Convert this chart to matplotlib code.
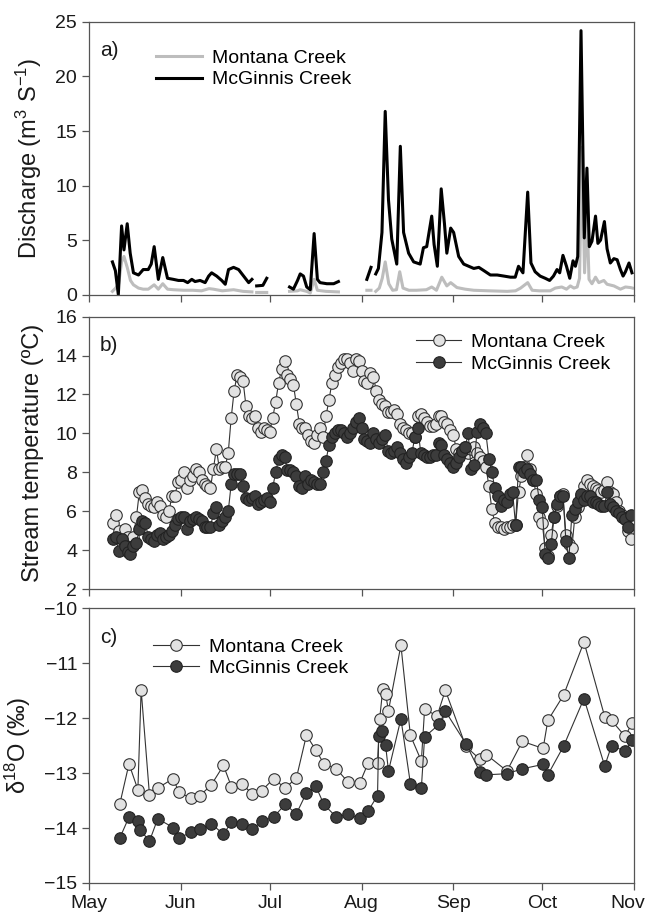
import numpy as np
import matplotlib
matplotlib.use("Agg")
import matplotlib.pyplot as plt
import matplotlib.dates as mdates
import matplotlib.transforms as mtransforms

plt.rcParams["font.family"] = ["Liberation Sans", "DejaVu Sans"]
plt.rcParams["mathtext.fontset"] = "custom"
plt.rcParams["mathtext.rm"] = "Liberation Sans"
plt.rcParams["mathtext.it"] = "Liberation Sans:italic"

# day offsets are counted from 1 May; None marks a gap in the record
START = np.datetime64("2010-05-01")
END = np.datetime64("2010-11-01")

# a) discharge, McGinnis Creek
mcg_q_days = [7.9, 8.9, 9.9, 11.0, 11.8, 12.9, 13.9, 15.0, 16.7, 18.3, 20.0, 21.0, 22.0,
              23.4, 24.9, 26.5, 28.5, 30.2, 31.9, 33.3, 34.7, 35.8, 37.5, 39.2, 40.4,
              41.4, 43.1, 44.8, 46.0, 47.1, 48.8, 50.5, 52.2, 53.9, 55.0, None,
              56.6, 58.7, 60.0, None,
              67.7, 69.0, 70.4, 71.3, 72.4, 73.5, 74.7, 76.0, 77.1, 78.0, 80.3, 82.6, 84.2, None,
              93.8, 95.2, None,
              96.8, 97.7, 98.9, 100.0, 101.1, 102.2, 103.9, 105.1, 106.2, 107.9, 109.6,
              111.8, 112.9, 114.0, 115.7, 116.5, 117.6, 118.9, 120.0, 120.8, 122.1, 123.1,
              124.8, 126.5, 128.2, 129.9, 131.6, 133.3, 135.5, 137.8, 140.1, 142.3, 143.9,
              145.0, 146.5, 148.1, 149.2, 150.6, 152.3, 154.0, 155.5, 156.8, 158.0, 158.9,
              160.0, 161.2, 162.3, 163.4, 164.2, 165.0, 166.1, 167.2, 168.1, 168.9, 169.8,
              171.0, 171.8, 172.7, 174.0, 174.9, 176.0, 177.2, 178.3, 179.4, 180.3, 181.1,
              182.3, 183.3]
mcg_q = [3.0, 2.2, 0.0, 6.3, 4.1, 6.5, 3.8, 2.0, 1.8, 2.3, 2.3, 2.8, 4.4,
         1.4, 3.4, 1.5, 1.4, 1.3, 1.3, 1.1, 1.4, 1.2, 1.3, 1.1, 1.7,
         2.0, 1.7, 1.3, 0.95, 2.3, 2.5, 2.3, 1.7, 1.1, 1.4, None,
         0.8, 0.85, 1.5, None,
         0.7, 0.5, 1.3, 1.9, 1.7, 0.7, 0.45, 5.6, 1.4, 1.1, 1.0, 1.0, 1.2, None,
         1.4, 2.5, None,
         1.9, 2.4, 5.7, 16.8, 8.7, 5.1, 2.8, 13.6, 5.7, 3.8, 3.0,
         2.8, 4.3, 4.4, 7.2, 4.6, 2.6, 9.7, 6.5, 3.8, 6.1, 5.7,
         3.5, 2.8, 2.6, 2.4, 2.5, 2.2, 1.8, 1.8, 1.7, 1.6, 1.6,
         2.6, 2.0, 9.4, 2.9, 2.1, 1.7, 1.5, 1.3, 1.7, 2.3, 2.0,
         3.6, 2.6, 1.5, 3.1, 2.6, 3.5, 24.2, 5.2, 11.6, 4.4, 4.9,
         7.2, 4.7, 5.0, 6.7, 4.2, 2.9, 3.3, 3.2, 2.3, 1.7, 2.1,
         2.9, 2.0]

# a) discharge, Montana Creek
mon_q_days = [7.9, 9.0, 10.0, 11.0, 11.8, 12.9, 14.0, 15.0, 16.7, 18.3, 20.0, 22.0, 23.4,
              24.9, 26.5, 28.5, 32.0, 35.0, 38.0, 40.5, 42.0, 45.0, 48.8, 52.0, 55.0, None,
              56.6, 60.0, None,
              67.7, 70.4, 71.3, 73.5, 74.7, 76.0, 77.1, 80.0, 84.2, None,
              93.8, 95.2, None,
              96.8, 98.0, 99.0, 100.0, 101.2, 102.5, 103.8, 104.9, 106.0, 108.0, 110.5,
              113.9, 115.7, 117.3, 119.1, 120.8, 122.1, 124.2, 127.0, 129.9, 135.0, 141.2,
              144.0, 145.7, 148.1, 149.6, 152.0, 155.7, 157.4, 159.6, 161.2, 162.5, 163.7,
              164.8, 165.6, 166.4, 167.3, 168.1, 168.8, 169.8, 171.0, 172.1, 173.8, 174.9,
              177.2, 179.4, 181.1, 182.8, 183.5]
mon_q = [0.3, 0.6, 1.0, 3.0, 3.5, 2.5, 1.3, 0.9, 0.6, 0.5, 0.5, 0.9, 0.5,
         1.0, 0.5, 0.45, 0.4, 0.4, 0.35, 0.55, 0.5, 0.35, 0.45, 0.3, 0.25, None,
         0.2, 0.2, None,
         0.3, 0.35, 0.45, 0.3, 0.15, 1.4, 0.4, 0.3, 0.25, None,
         0.4, 0.4, None,
         0.3, 0.6, 1.5, 3.0, 1.0, 0.4, 0.45, 2.1, 0.6, 0.4, 0.4,
         0.45, 0.7, 0.4, 1.6, 0.8, 1.1, 0.65, 0.5, 0.4, 0.35, 0.3,
         0.35, 0.6, 1.1, 0.4, 0.35, 0.35, 0.6, 0.7, 0.5, 0.8, 0.6,
         0.7, 1.5, 13.5, 2.0, 7.5, 1.4, 1.0, 1.6, 1.1, 1.3, 0.95,
         0.8, 0.5, 0.7, 0.65, 0.6]

# b) daily stream temperature, both records start 9 May (offset 8)
temp_first_day = 8
mon_temp = [5.4, 5.8, 5.0, 4.6, 5.1, 4.7, 4.5, 4.7, 5.7, 7.0, 7.1, 6.7, 6.4, 6.3, 6.2, 6.5,
            6.3, 5.8, 5.7, 6.0, 6.8, 6.8, 7.5, 7.6, 8.0, 7.2, 7.6, 7.8, 8.2, 8.0, 7.6, 7.4,
            7.3, 7.2, 8.2, 9.2, 8.2, 8.3, 8.3, 9.0, 10.8, 12.2, 13.0, 12.9, 12.7, 11.4, 10.9,
            10.8, 10.9, 10.3, 10.1, 10.3, 10.2, 10.1, 10.8, 11.6, 12.6, 13.3, 13.7, 13.0,
            12.8, 12.5, 11.5, 10.5, 10.3, 10.3, 9.9, 9.6, 9.5, 9.9, 10.3, 9.8, 10.9, 11.7,
            12.6, 13.0, 13.4, 13.6, 13.8, 13.8, 13.6, 13.2, 13.8, 13.7, 13.2, 12.7, 12.6,
            13.1, 12.9, 12.2, 11.7, 11.5, 11.4, 11.1, 11.1, 11.2, 11.0, 10.5, 10.3, 10.2,
            10.0, 10.0, 9.8, 10.9, 11.0, 10.8, 10.6, 10.4, 10.4, 10.5, 10.9, 10.9, 10.6,
            10.5, 10.2, 9.9, 9.2, 9.0, 9.1, 9.3, 9.0, 9.2, 9.3, 9.0, 8.8, 8.6, 8.3, 7.3,
            6.1, 5.4, 5.2, 5.2, 5.1, 5.2, 5.2, 5.3, 5.3, 7.0, 7.8, 8.3, 8.9, 8.2, 7.6, 6.9,
            5.7, 5.4, 4.1, 3.7, 4.8, 5.7, 6.3, 6.8, 6.9, 4.8, 4.3, 4.1, 5.7, 6.2, 6.8, 7.3,
            7.6, 7.4, 7.3, 7.2, 7.1, 7.0, 7.1, 7.5, 7.0, 6.9, 6.5, 6.0, 5.8, 5.6, 5.0, 4.6]
mcg_temp = [4.6, 4.7, 3.95, 4.6, 4.2, 3.9, 3.8, 4.2, 4.4, 5.1, 5.5, 5.4, 4.7, 4.6, 4.5,
            4.8, 4.9, 4.6, 4.7, 4.8, 5.0, 5.3, 5.6, 5.7, 5.7, 5.1, 5.5, 5.6, 5.7, 5.6, 5.5,
            5.2, 5.2, 5.2, 5.9, 6.2, 5.3, 5.5, 5.7, 6.0, 7.4, 7.9, 7.9, 7.9, 7.3, 6.7, 6.6,
            6.7, 6.8, 6.4, 6.5, 6.6, 6.7, 6.5, 7.2, 8.0, 8.7, 8.9, 8.8, 8.1, 8.1, 8.0, 7.8,
            7.3, 7.2, 7.8, 7.4, 7.6, 7.5, 7.4, 7.4, 8.0, 8.6, 9.4, 9.8, 10.0, 10.2, 10.2,
            10.0, 9.8, 10.0, 10.3, 10.6, 10.8, 10.3, 9.7, 9.6, 9.5, 10.0, 9.7, 9.5, 9.7,
            9.9, 9.1, 9.0, 9.1, 9.3, 9.0, 8.7, 8.5, 8.8, 9.0, 9.8, 10.3, 9.0, 8.9, 8.8, 8.8,
            8.9, 8.9, 9.5, 9.4, 8.9, 8.7, 8.5, 8.3, 8.5, 8.8, 9.1, 9.3, 10.0, 8.2, 8.4,
            10.1, 10.5, 10.3, 10.0, 8.7, 8.0, 7.2, 6.8, 6.3, 6.6, 6.5, 6.9, 7.0, 5.3, 8.3,
            8.3, 8.0, 8.2, 7.9, 7.6, 7.6, 6.6, 6.2, 3.8, 3.6, 4.3, 5.7, 6.4, 6.8, 6.8, 4.5,
            3.6, 5.8, 6.1, 6.5, 6.9, 6.6, 6.8, 6.8, 6.5, 6.5, 6.4, 6.3, 6.3, 7.0, 6.4, 6.2,
            6.0, 5.9, 5.7, 5.6, 5.2, 5.8]

# c) d18O samples
mon_iso_days = [10.4, 13.5, 16.5, 17.6, 20.4, 23.2, 28.4, 30.4, 34.3, 37.4, 41.2, 45.4, 48.1,
                51.6, 55.1, 58.3, 62.3, 66.2, 70.0, 73.4, 76.6, 79.3, 83.5, 87.4, 91.4, 94.2,
                97.4, 98.1, 99.2, 100.1, 101.1, 105.3, 108.5, 112.2, 113.3, 117.5, 120.3,
                127.2, 132.0, 134.1, 141.1, 146.3, 153.3, 154.9, 160.2, 167.1, 174.1, 176.4,
                181.0, 183.4]
mon_iso = [-13.56, -12.83, -13.30, -11.48, -13.39, -13.27, -13.10, -13.35, -13.45, -13.41,
           -13.22, -12.86, -13.25, -13.19, -13.38, -13.32, -13.10, -13.27, -13.09, -12.31,
           -12.58, -12.83, -12.92, -13.16, -13.18, -12.82, -12.81, -12.02, -11.46, -11.55,
           -11.86, -10.67, -12.31, -12.78, -11.83, -11.96, -11.49, -12.51, -12.75, -12.66,
           -12.96, -12.42, -12.55, -12.04, -11.58, -10.61, -11.97, -12.04, -12.33, -12.08]
mcg_iso_days = [10.4, 13.5, 16.5, 17.3, 20.4, 23.2, 28.4, 30.4, 34.3, 37.4, 41.2, 45.4, 48.1,
                51.6, 55.1, 58.3, 62.3, 66.2, 70.0, 73.4, 76.6, 79.3, 83.5, 87.4, 91.4, 94.2,
                97.4, 97.8, 98.9, 100.1, 101.1, 105.3, 108.5, 112.2, 113.3, 118.2, 120.3,
                127.2, 132.0, 134.1, 141.1, 146.3, 153.3, 154.9, 160.2, 167.1, 174.1, 176.4,
                181.0, 183.4]
mcg_iso = [-14.18, -13.80, -13.88, -14.03, -14.24, -13.83, -13.99, -14.18, -14.08, -14.02,
           -13.92, -14.11, -13.89, -13.93, -14.02, -13.88, -13.80, -13.57, -13.74, -13.36,
           -13.24, -13.57, -13.80, -13.75, -13.82, -13.69, -13.41, -12.33, -12.24, -12.48,
           -12.96, -12.01, -13.19, -13.27, -12.34, -12.11, -11.87, -12.46, -12.98, -13.03,
           -13.01, -12.92, -12.84, -13.03, -12.51, -11.64, -12.87, -12.50, -12.60, -12.39]

names = ["Montana Creek", "McGinnis Creek"]


def to_dates(days):
    d = np.array([np.nan if v is None else v for v in days], dtype=float)
    return mdates.date2num(START) + d


def to_vals(vals):
    return np.array([np.nan if v is None else v for v in vals], dtype=float)


def daily_dates(first_day, n):
    return mdates.date2num(START) + first_day + np.arange(n)


FRAME = "#555555"
TXT = "#1a1a1a"
MS = 8.3
leg_kw = dict(frameon=False, fontsize=14, handletextpad=0.5, labelspacing=0.2,
              borderaxespad=0.0, borderpad=0.0)

fig = plt.figure(figsize=(6.45, 9.15), dpi=100)
left, width = 0.138, 0.845
ax_a = fig.add_axes([left, 0.678, width, 0.298])
ax_b = fig.add_axes([left, 0.356, width, 0.298])
ax_c = fig.add_axes([left, 0.035, width, 0.300])

# a) discharge
ax_a.plot(to_dates(mon_q_days), to_vals(mon_q), color="#bdbdbd", lw=2.2, label=names[0])
ax_a.plot(to_dates(mcg_q_days), to_vals(mcg_q), color="black", lw=2.2, label=names[1])
ax_a.set_ylim(0, 25)
ax_a.set_yticks([0, 5, 10, 15, 20, 25])
ax_a.set_ylabel("Discharge (m$^{3}$ S$^{-1}$)", fontsize=17, color=TXT, labelpad=8)
ax_a.legend(loc="upper left", bbox_to_anchor=(0.122, 0.9), handlelength=2.4, **leg_kw)

# b) stream temperature
ax_b.plot(daily_dates(temp_first_day, len(mon_temp)), mon_temp, "-o", color="#333333",
          lw=0.8, ms=MS, mfc="#e2e2e2", mec="#333333", mew=0.8, label=names[0])
ax_b.plot(daily_dates(temp_first_day, len(mcg_temp)), mcg_temp, "-o", color="#333333",
          lw=0.8, ms=MS, mfc="#3c3c3c", mec="#222222", mew=0.8, label=names[1])
ax_b.set_ylim(2, 16)
ax_b.set_yticks(range(2, 17, 2))
ax_b.set_ylabel("Stream temperature (\u00baC)", fontsize=17, color=TXT, labelpad=8)
ax_b.legend(loc="upper right", bbox_to_anchor=(0.956, 0.938), handlelength=2.3, **leg_kw)

# c) isotopes
ax_c.plot(to_dates(mon_iso_days), mon_iso, "-o", color="#333333", lw=0.8, ms=MS,
          mfc="#e2e2e2", mec="#333333", mew=0.8, label=names[0])
ax_c.plot(to_dates(mcg_iso_days), mcg_iso, "-o", color="#333333", lw=0.8, ms=MS,
          mfc="#3c3c3c", mec="#222222", mew=0.8, label=names[1])
ax_c.set_ylim(-15, -10)
ax_c.set_yticks(range(-15, -9))
ax_c.set_ylabel("\u03b4$^{18}$O (\u2030)", fontsize=17, color=TXT, labelpad=8)
ax_c.legend(loc="upper left", bbox_to_anchor=(0.117, 0.892), handlelength=2.4, **leg_kw)

for ax, tag in zip([ax_a, ax_b, ax_c], ["a)", "b)", "c)"]):
    ax.set_xlim(mdates.date2num(START), mdates.date2num(END))
    ax.xaxis.set_major_locator(mdates.MonthLocator())
    ax.xaxis.set_major_formatter(mdates.DateFormatter("%b"))
    ax.tick_params(direction="out", length=5, width=0.9, color=FRAME, labelsize=14,
                   labelcolor=TXT, top=False, right=False)
    for s in ax.spines.values():
        s.set_color(FRAME)
        s.set_linewidth(0.9)
    ax.text(0.02, 0.93, tag, transform=ax.transAxes, fontsize=15, color=TXT,
            va="top", ha="left")

ax_a.tick_params(labelbottom=False)
ax_b.tick_params(labelbottom=False)

# keep the last month label inside the canvas
fig.canvas.draw()
last = ax_c.get_xticklabels()[-1]
last.set_transform(last.get_transform() +
                   mtransforms.ScaledTranslation(-6 / 100, 0, fig.dpi_scale_trans))

fig.savefig("out.png", dpi=100)
